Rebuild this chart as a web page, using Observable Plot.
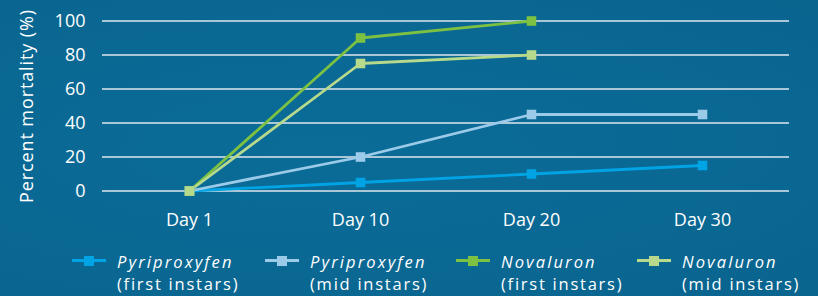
<!DOCTYPE html>
<html>
<head>
<meta charset="utf-8">
<script src="https://cdn.jsdelivr.net/npm/d3@7"></script>
<script src="https://cdn.jsdelivr.net/npm/@observablehq/plot@0.6"></script>
<style>
  html, body { margin: 0; padding: 0; background: #0a6994; }
  #wrap { position: relative; width: 818px; height: 296px; overflow: hidden;
          background: radial-gradient(ellipse at 40% 50%, #0b6c98 0%, #0a6893 60%, #09648e 100%);
          font-family: "Open Sans", sans-serif; color: #fff; }
  #legend { position: absolute; left: 0; top: 250.7px; width: 818px; height: 45px; }
  .item { position: absolute; top: 0; display: flex; align-items: flex-start; }
  .sym { width: 34px; height: 22px; position: relative; margin-right: 11px; }
  .sym .ln { position: absolute; left: 0; right: 0; top: 8.8px; height: 3px; }
  .sym .sq { position: absolute; left: 12px; top: 5.3px; width: 10px; height: 10px; }
  .txt { font-size: 16.5px; line-height: 22.5px; letter-spacing: 1.75px; white-space: nowrap; }
  .txt div { height: 22.5px; }
  .txt i { font-style: italic; letter-spacing: 2.1px; }
</style>
</head>
<body>
<div id="wrap">
  <div id="chart"></div>
  <div id="legend"></div>
</div>
<script>
// ---- data ----
const days = ["Day 1", "Day 10", "Day 20", "Day 30"];
const pyriproxyfenFirst = [0, 5, 10, 15];
const pyriproxyfenMid = [0, 20, 45, 45];
const novaluronFirst = [0, 90, 100, null];
const novaluronMid = [0, 75, 80, null];
const seriesNames = ["Pyriproxyfen (first instars)", "Pyriproxyfen (mid instars)", "Novaluron (first instars)", "Novaluron (mid instars)"];
const seriesProduct = ["Pyriproxyfen", "Pyriproxyfen", "Novaluron", "Novaluron"];
const seriesStage = ["(first instars)", "(mid instars)", "(first instars)", "(mid instars)"];
const seriesColors = ["#00a4e4", "#9ccbea", "#7cc142", "#b6d98c"];
const yTicks = [0, 20, 40, 60, 80, 100];
const yLabel = "Percent mortality (%)";

const seriesValues = [pyriproxyfenFirst, pyriproxyfenMid, novaluronFirst, novaluronMid];
const rows = [];
seriesValues.forEach((vals, s) => vals.forEach((v, i) => {
  if (v !== null) rows.push({series: seriesNames[s], day: days[i], value: v, color: seriesColors[s], order: s});
}));

const chart = Plot.plot({
  width: 818,
  height: 296,
  marginLeft: 102,
  marginRight: 29,
  marginTop: 20.5,
  marginBottom: 105.5,
  style: {background: "transparent", color: "#ffffff", fontFamily: "'Open Sans', sans-serif", overflow: "visible"},
  x: {type: "point", domain: days, padding: 0.5},
  y: {domain: [0, 100]},
  marks: [
    Plot.gridY(yTicks, {stroke: "#a9c7d7", strokeOpacity: 1, strokeWidth: 1.8}),
    Plot.axisY(yTicks, {tickSize: 0, tickPadding: 17, fontSize: 18, label: yLabel, labelAnchor: "center", labelOffset: 82, labelArrow: "none"}),
    Plot.axisX(days, {tickSize: 0, tickPadding: 22, fontSize: 18, label: null}),
    Plot.line(rows, {x: "day", y: "value", z: "series", stroke: "color", strokeWidth: 2.8}),
    Plot.dot(rows, {x: "day", y: "value", symbol: "square", r: 5.4, fill: "color", stroke: "none"})
  ]
});
chart.querySelectorAll("[aria-label='y-axis label'] text").forEach(t => {
  t.setAttribute("font-size", 18);
  t.setAttribute("letter-spacing", "0.9");
});
document.getElementById("chart").appendChild(chart);

// ---- legend ----
const legendLeft = [72, 265, 456, 637];
const legend = document.getElementById("legend");
seriesNames.forEach((name, s) => {
  const item = document.createElement("div");
  item.className = "item";
  item.style.left = legendLeft[s] + "px";
  item.innerHTML = `<div class="sym"><div class="ln" style="background:${seriesColors[s]}"></div><div class="sq" style="background:${seriesColors[s]}"></div></div>` +
    `<div class="txt"><div><i>${seriesProduct[s]}</i></div><div>${seriesStage[s]}</div></div>`;
  legend.appendChild(item);
});
</script>
</body>
</html>
